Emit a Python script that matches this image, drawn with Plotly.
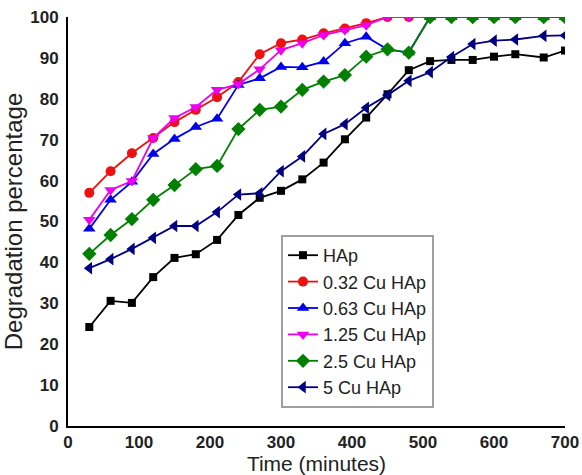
import plotly.graph_objects as go

# Sampling times (minutes)
times = [30, 60, 90, 120, 150, 180, 210, 240, 270, 300, 330, 360, 390, 420,
         450, 480, 510, 540, 570, 600, 630, 670, 700]

# Degradation percentage for each sample
hap = [24.2, 30.6, 30.1, 36.4, 41.1, 42.0, 45.5, 51.6, 55.8, 57.5, 60.3, 64.4,
       70.1, 75.4, 81.1, 87.0, 89.2, 89.5, 89.5, 90.3, 90.9, 90.1, 91.8]
cu_032 = [57.0, 62.3, 66.7, 70.4, 74.3, 77.3, 80.4, 84.1, 90.9, 93.6, 94.5, 96.0,
          97.2, 98.5, 100, 100, 100, 100, 100, 100, 100, 100, 100]
cu_063 = [48.2, 55.3, 59.7, 66.5, 70.2, 73.1, 75.1, 83.4, 85.0, 87.8, 87.7, 89.1,
          93.6, 95.2, 92.1, 91.3, 100, 100, 100, 100, 100, 100, 100]
cu_125 = [50.4, 57.7, 59.9, 70.4, 75.3, 78.0, 82.2, 83.6, 87.2, 91.9, 93.6, 95.6,
          96.8, 98.0, 100, 100, 100, 100, 100, 100, 100, 100, 100]
cu_25 = [42.1, 46.7, 50.6, 55.3, 58.9, 62.8, 63.6, 72.6, 77.3, 78.1, 82.2, 84.2,
         85.8, 90.3, 92.1, 91.3, 100, 100, 100, 100, 100, 100, 100]
cu_5 = [38.6, 40.8, 43.3, 46.0, 48.9, 48.9, 52.3, 56.6, 56.9, 62.3, 65.9, 71.4,
        73.8, 77.8, 80.9, 84.4, 86.5, 90.2, 93.4, 94.2, 94.5, 95.4, 95.5]

series = [
    ("HAp", hap, "#000000", "square", 8),
    ("0.32 Cu HAp", cu_032, "#ee1111", "circle", 10),
    ("0.63 Cu HAp", cu_063, "#0000ee", "triangle-up", 11),
    ("1.25 Cu HAp", cu_125, "#ee00ee", "triangle-down", 11),
    ("2.5 Cu HAp", cu_25, "#008000", "diamond", 11),
    ("5 Cu HAp", cu_5, "#000080", "triangle-left", 11),
]

FONT = "Liberation Sans, Arial, sans-serif"
TEXT = "#222222"

fig = go.Figure()
for name, vals, color, symbol, size in series:
    fig.add_trace(go.Scatter(
        x=times, y=vals, name=name, mode="lines+markers",
        line=dict(color=color, width=1.8),
        marker=dict(symbol=symbol, size=size, color=color,
                    line=dict(width=0)),
    ))

fig.update_layout(
    width=582, height=475,
    margin=dict(l=68, r=17, t=17, b=49),
    paper_bgcolor="white", plot_bgcolor="white",
    font=dict(family=FONT, color=TEXT),
    legend=dict(
        x=0.4286, y=0.467, xanchor="left", yanchor="top",
        bgcolor="white", bordercolor="#a0a0a0", borderwidth=2,
        font=dict(size=18, family=FONT, color=TEXT),
        tracegroupgap=0,
    ),
    showlegend=True,
)
fig.update_xaxes(
    range=[0, 700], dtick=100, tick0=0, automargin=False,
    showline=True, linecolor="black", linewidth=2, mirror=False,
    showgrid=False, zeroline=False,
    ticks="",
    tickfont=dict(size=17, family=FONT, color=TEXT, weight="bold"),
    title=dict(text="Time (minutes)", font=dict(size=21, family=FONT, color=TEXT),
               standoff=2),
)
fig.update_yaxes(
    range=[0, 100], dtick=10, tick0=0, automargin=False,
    showline=True, linecolor="black", linewidth=2, mirror=False,
    showgrid=False, zeroline=False,
    ticks="outside", ticklen=4, tickcolor="rgba(0,0,0,0)",
    tickfont=dict(size=17, family=FONT, color=TEXT, weight="bold"),
    title=dict(text="Degradation percentage", font=dict(size=24, family=FONT, color=TEXT),
               standoff=2),
)

fig.write_html("out.html")
